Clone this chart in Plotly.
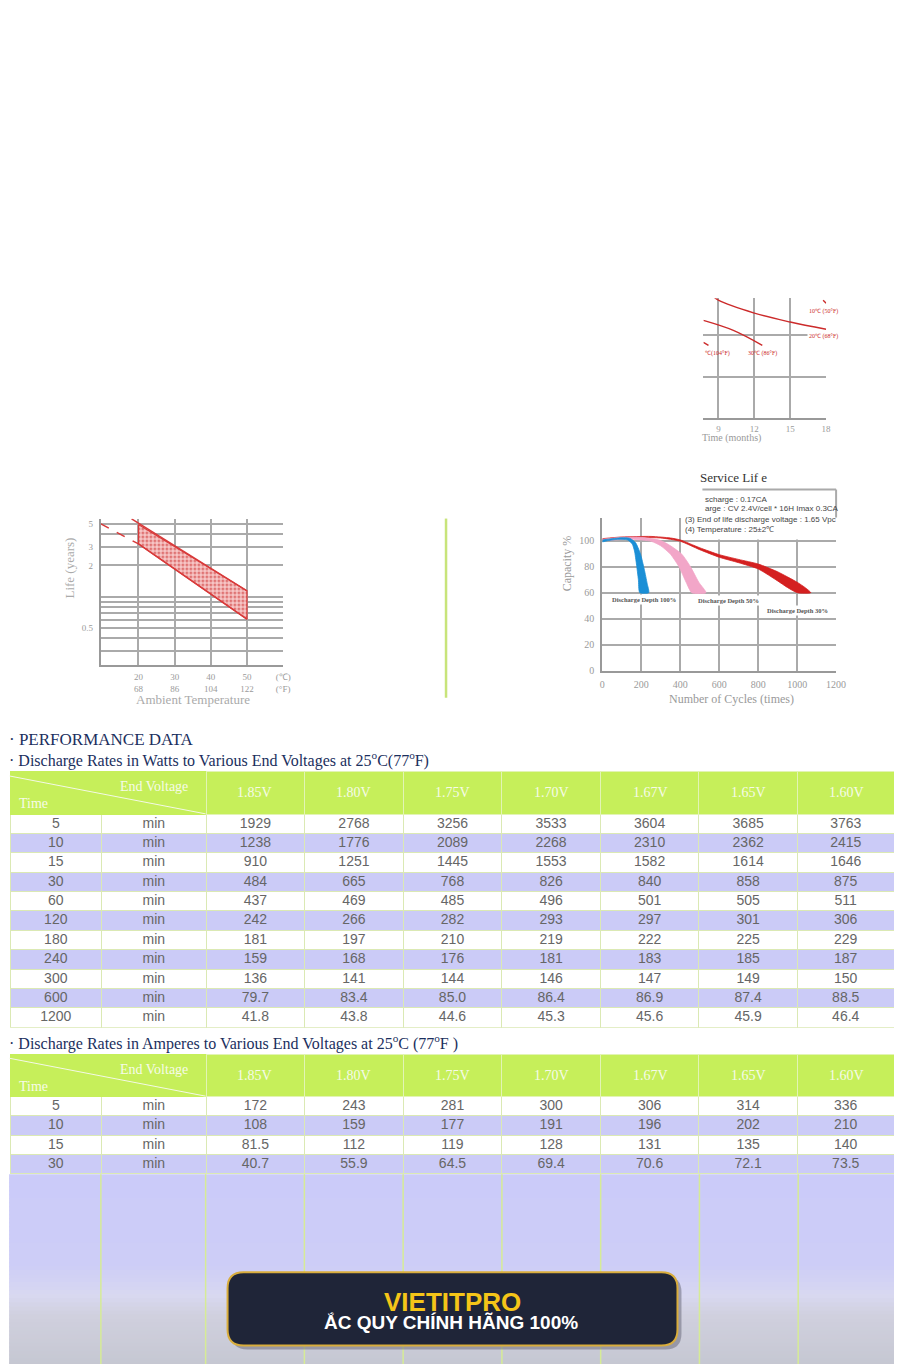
import plotly.graph_objects as go

# 撮影時の縮尺とページ余白を補正するための値
OFF = 8
SX, SY = 0.989, 0.9953
W, H = 897, 1362


def fx(p):
    return (p / SX - OFF) / W


def fy(p):
    return 1 - (p / SY - OFF) / H


SERIF = 'Liberation Serif, Times New Roman, serif'
SANS = 'Liberation Sans, Arial, sans-serif'

# 放電データ（W）
watt_minutes = [5, 10, 15, 30, 60, 120, 180, 240, 300, 600, 1200]
end_voltages = ['1.85V', '1.80V', '1.75V', '1.70V', '1.67V', '1.65V', '1.60V']
watts_185 = [1929, 1238, 910, 484, 437, 242, 181, 159, 136, 79.7, 41.8]
watts_180 = [2768, 1776, 1251, 665, 469, 266, 197, 168, 141, 83.4, 43.8]
watts_175 = [3256, 2089, 1445, 768, 485, 282, 210, 176, 144, 85.0, 44.6]
watts_170 = [3533, 2268, 1553, 826, 496, 293, 219, 181, 146, 86.4, 45.3]
watts_167 = [3604, 2310, 1582, 840, 501, 297, 222, 183, 147, 86.9, 45.6]
watts_165 = [3685, 2362, 1614, 858, 505, 301, 225, 185, 149, 87.4, 45.9]
watts_160 = [3763, 2415, 1646, 875, 511, 306, 229, 187, 150, 88.5, 46.4]

# 放電データ（A）
amp_minutes = [5, 10, 15, 30]
amps_185 = [172, 108, 81.5, 40.7]
amps_180 = [243, 159, 112, 55.9]
amps_175 = [281, 177, 119, 64.5]
amps_170 = [300, 191, 128, 69.4]
amps_167 = [306, 196, 131, 70.6]
amps_165 = [314, 202, 135, 72.1]
amps_160 = [336, 210, 140, 73.5]

# 寿命 vs 周囲温度
life_band_temp = [20, 50, 50, 20, 20]
life_band_years = [4.92, 1.14, 0.61, 3.21, 4.92]
life_upper_temp = [18.1, 50]
life_upper_years = [5.58, 1.14]
life_lower_temp = [20, 50]
life_lower_years = [3.21, 0.61]
life_dash_temp = [9.6, 20]
life_dash_years = [5.0, 3.21]

# サイクル寿命（帯の外形）
d100_cycles = [0, 50, 100, 140, 170, 195, 215, 230, 238,
               192, 185, 175, 165, 153, 130, 80, 30, 0]
d100_capacity = [100.5, 101.5, 102.2, 101.8, 98.5, 90, 78, 67, 60,
                 60, 70, 82, 92, 97.5, 100.5, 101, 100, 99]
d50_cycles = [0, 100, 200, 300, 350, 408, 452, 495, 532,
              459, 430, 393, 350, 300, 250, 150, 0]
d50_capacity = [101, 102.5, 102.5, 100, 96, 89.5, 80, 68, 60,
                60, 68, 80, 89.5, 96, 99.5, 101, 100]
d30_cycles = [0, 100, 250, 350, 400, 500, 600, 700, 800, 900, 1000, 1040, 1070,
              1000, 950, 900, 800, 700, 600, 500, 400, 300, 200, 100, 0]
d30_capacity = [101.5, 102.8, 103.2, 102, 100.5, 94.5, 89.2, 85.5, 82, 76, 68, 64, 60,
                60, 64, 69, 78.2, 83, 87.2, 93, 99.5, 102, 102.3, 102, 100.5]

# 保存特性（右上）
t20_months = [8.6, 9, 12, 15, 18]
t20_capacity = [98.6, 96.9, 90.7, 86.4, 82.9]
t30_months = [7.75, 10.25, 12.67]
t30_capacity = [87.2, 82.4, 75.2]
t40_months = [7.75, 8.17]
t40_capacity = [76.6, 75.2]
t10_months = [17.75, 18]
t10_capacity = [96.9, 95.4]

GRID = '#aaaaaa'
AXIS = '#999999'
TICK = '#9a9a9a'
RED = '#cc2b2b'
GREEN = '#c6ef5a'
LAV = '#cbcbf7'
CLEAR = 'rgba(0,0,0,0)'

fig = go.Figure()

# ---- 寿命グラフ ----
fig.add_trace(go.Scatter(
    x=life_band_temp, y=life_band_years, mode='lines', fill='toself',
    fillpattern=dict(shape='.', fgcolor='#c81e1e', bgcolor='#f7c9c9', size=4, solidity=0.45),
    line=dict(color='#d83a3a', width=1.2), showlegend=False, xaxis='x', yaxis='y'))
fig.add_trace(go.Scatter(x=life_upper_temp, y=life_upper_years, mode='lines',
                         line=dict(color='#d83a3a', width=1.5), showlegend=False))
fig.add_trace(go.Scatter(x=life_lower_temp, y=life_lower_years, mode='lines',
                         line=dict(color='#d83a3a', width=1.5), showlegend=False))
fig.add_trace(go.Scatter(x=life_dash_temp, y=life_dash_years, mode='lines',
                         line=dict(color='#d83a3a', width=1.5, dash='dash'), showlegend=False))

# ---- サイクル寿命グラフ ----
for cx, cy, col in [(d30_cycles, d30_capacity, '#d42020'),
                    (d50_cycles, d50_capacity, '#f2a6c8'),
                    (d100_cycles, d100_capacity, '#1b8fd6')]:
    fig.add_trace(go.Scatter(x=cx, y=cy, mode='lines', fill='toself', fillcolor=col,
                             line=dict(color=col, width=0.8, shape='spline', smoothing=0.6),
                             showlegend=False, xaxis='x2', yaxis='y2'))

# ---- 保存特性グラフ ----
for mx, my in [(t20_months, t20_capacity), (t30_months, t30_capacity),
               (t40_months, t40_capacity), (t10_months, t10_capacity)]:
    fig.add_trace(go.Scatter(x=mx, y=my, mode='lines',
                             line=dict(color=RED, width=1.4, shape='spline'),
                             showlegend=False, xaxis='x3', yaxis='y3'))


# ---- テーブル ----
def fmt(v):
    return f'{v:.1f}' if v < 100 else f'{v:.0f}'


def row_fill(n):
    return ['white' if i % 2 == 0 else LAV for i in range(n)]


COLW = [92, 105, 99, 99, 99, 99, 99, 99, 97]


def add_table(minutes, cols, y_top, y_bot):
    n = len(minutes)
    values = [[str(m) for m in minutes], ['min'] * n] + [[fmt(v) for v in c] for c in cols]
    xdom = [max(0, fx(7)), min(1, fx(895))]
    # 背景と罫線
    fig.add_trace(go.Table(
        domain=dict(x=xdom, y=[fy(y_bot), fy(y_top)]),
        columnwidth=COLW,
        header=dict(values=[''] * 9, height=42 / SY, fill_color=GREEN,
                    line=dict(color=[GREEN, GREEN] + ['#e2f4b4'] * 7, width=1)),
        cells=dict(values=[[''] * n] * 9, height=19.3 / SY,
                   fill_color=[row_fill(n)] * 9,
                   line=dict(color='#dbe9b4', width=1)),
    ))
    # 数値（セル内の余白ぶん上にずらして重ねる）
    fig.add_trace(go.Table(
        domain=dict(x=xdom, y=[fy(y_bot - 5), fy(y_top - 5)]),
        columnwidth=COLW,
        header=dict(values=[''] * 9, height=42 / SY, fill_color=CLEAR,
                    line=dict(color=CLEAR, width=0)),
        cells=dict(values=values, height=19.3 / SY, fill_color=CLEAR,
                   line=dict(color=CLEAR, width=0),
                   font=dict(family=SANS, size=14, color='#666666'),
                   align='center'),
    ))


add_table(watt_minutes,
          [watts_185, watts_180, watts_175, watts_170, watts_167, watts_165, watts_160],
          771, 1027)
add_table(amp_minutes,
          [amps_185, amps_180, amps_175, amps_170, amps_167, amps_165, amps_160],
          1053, 1173)

shapes = []
annotations = []


def text(x, y, s, size, color, family=SERIF, xanchor='center', **kw):
    annotations.append(dict(x=fx(x), y=fy(y), xref='paper', yref='paper', text=s,
                            showarrow=False, xanchor=xanchor, yanchor='middle',
                            font=dict(family=family, size=size, color=color), **kw))


def hline(x0, x1, y, color, width):
    shapes.append(dict(type='line', xref='paper', yref='paper', x0=fx(x0), x1=fx(x1),
                       y0=fy(y), y1=fy(y), line=dict(color=color, width=width)))


def vline(x, y0, y1, color, width):
    shapes.append(dict(type='line', xref='paper', yref='paper', x0=fx(x), x1=fx(x),
                       y0=fy(y0), y1=fy(y1), line=dict(color=color, width=width)))


# 寿命グラフのラベル
text(68, 567, 'Life (years)', 13, '#aaaaaa', textangle=-90)
text(191, 699, 'Ambient Temperature', 13, '#aaaaaa')

# 緑の縦線
vline(445, 518, 697, '#c8e47a', 2.5)

# サイクル寿命：条件ボックス
shapes.append(dict(type='rect', xref='paper', yref='paper', x0=fx(686), x1=fx(836),
                   y0=fy(539), y1=fy(489), fillcolor='white', line=dict(width=0), layer='above'))
hline(702, 836, 489, GRID, 2)
vline(836, 489, 517, GRID, 2)
text(698, 477, 'Service Lif e', 13, '#333333', xanchor='left')
text(703, 499, 'scharge : 0.17CA', 8, '#444444', family=SANS, xanchor='left')
text(703, 508, 'arge : CV 2.4V/cell * 16H Imax 0.3CA', 8, '#444444', family=SANS, xanchor='left')
text(683, 519, '(3) End of life discharge voltage : 1.65 Vpc', 8, '#444444', family=SANS, xanchor='left')
text(683, 529, '(4) Temperature : 25±2℃', 8, '#444444', family=SANS, xanchor='left')
text(643, 599, '<b>Discharge Depth 100%</b>', 6.5, '#555555', bgcolor='white')
text(728, 600, '<b>Discharge Depth 50%</b>', 6.5, '#555555', bgcolor='white')
text(797, 610, '<b>Discharge Depth 30%</b>', 6.5, '#555555', bgcolor='white')
text(566, 563, 'Capacity %', 12, '#999999', textangle=-90)
text(731, 698, 'Number of Cycles (times)', 12, '#999999')

# 保存特性ラベル
text(823, 311, '10℃ (50°F)', 6, RED)
text(823, 336, '20℃ (68°F)', 6, RED, bgcolor='white')
text(762, 353, '30℃ (86°F)', 6, RED)
text(703, 353, '℃(104°F)', 6, RED, xanchor='left')
text(700, 438, 'Time (months)', 10, '#999999', xanchor='left')

# 見出し
NAVY = '#1b2f5e'
text(5, 739, '· PERFORMANCE DATA', 17, NAVY, xanchor='left')
text(5, 759, '· Discharge Rates in Watts to Various End Voltages at 25<sup>o</sup>C(77<sup>o</sup>F)',
     16, NAVY, xanchor='left')
text(5, 1041, '· Discharge Rates in Amperes to Various End Voltages at 25<sup>o</sup>C (77<sup>o</sup>F )',
     16, NAVY, xanchor='left')

# テーブルヘッダー（斜線・見出し・電圧）
col_edges = [204, 303, 402, 501, 600, 699, 798, 895]
for ty in (771, 1053):
    annotations.append(dict(x=fx(204), y=fy(ty + 42), xref='paper', yref='paper', text='',
                            showarrow=True, arrowhead=0, arrowwidth=1, arrowcolor='#f4f9e6',
                            ax=-197 / SX, ay=-38 / SY, standoff=0))
    text(152, ty + 15, 'End Voltage', 14, '#f6fbe8')
    text(15, ty + 32, 'Time', 14, '#f6fbe8', xanchor='left')
    for v, a, b in zip(end_voltages, col_edges[:-1], col_edges[1:]):
        text((a + b) / 2, ty + 21, v, 14, '#f6fbe8')

# 下部のラベンダー背景（グラデーション）
stops = [(1173, (203, 203, 249)), (1262, (205, 205, 247)), (1292, (216, 216, 240)),
         (1312, (208, 208, 222)), (1368, (196, 198, 208))]
y = 1173
while y < 1366:
    for (a, ca), (b, cb) in zip(stops[:-1], stops[1:]):
        if a <= y < b:
            t = (y - a) / (b - a)
            c = tuple(round(ca[i] + (cb[i] - ca[i]) * t) for i in range(3))
    shapes.append(dict(type='rect', xref='paper', yref='paper', x0=fx(7), x1=fx(895),
                       y0=fy(y + 5), y1=fy(y), fillcolor='rgb(%d,%d,%d)' % c,
                       line=dict(width=0), layer='below'))
    y += 4
for bx in [99, 204, 303, 402, 501, 600, 699, 798]:
    vline(bx, 1173, 1366, '#d6eb96', 1.5)


# バナー
def rounded(x0, y0, x1, y1, r):
    return (f'M {fx(x0 + r)},{fy(y0)} L {fx(x1 - r)},{fy(y0)} '
            f'Q {fx(x1)},{fy(y0)} {fx(x1)},{fy(y0 + r)} L {fx(x1)},{fy(y1 - r)} '
            f'Q {fx(x1)},{fy(y1)} {fx(x1 - r)},{fy(y1)} L {fx(x0 + r)},{fy(y1)} '
            f'Q {fx(x0)},{fy(y1)} {fx(x0)},{fy(y1 - r)} L {fx(x0)},{fy(y0 + r)} '
            f'Q {fx(x0)},{fy(y0)} {fx(x0 + r)},{fy(y0)} Z')


shapes.append(dict(type='path', xref='paper', yref='paper', path=rounded(230, 1275, 681, 1348, 16),
                   fillcolor='rgba(110,110,125,0.55)', line=dict(width=0), layer='above'))
shapes.append(dict(type='path', xref='paper', yref='paper', path=rounded(226, 1271, 677, 1344, 16),
                   fillcolor='#1f2538', line=dict(color='#d9ad3c', width=2), layer='above'))
text(451, 1301, '<b>VIETITPRO</b>', 26, '#f5c518', family=SANS)
text(450, 1321, '<b>ẮC QUY CHÍNH HÃNG 100%</b>', 19, 'white', family=SANS)

axis_common = dict(showgrid=True, gridcolor=GRID, gridwidth=1.8, zeroline=False,
                   showline=True, linecolor=AXIS, linewidth=2, ticks='outside',
                   tickcolor='rgba(0,0,0,0)', fixedrange=True)

fig.update_layout(
    width=W, height=H, margin=dict(l=0, r=0, t=0, b=0),
    paper_bgcolor='white', plot_bgcolor='white', showlegend=False,
    xaxis=dict(domain=[fx(99), fx(281.7)], range=[9.6, 60], tickvals=[20, 30, 40, 50, 60],
               ticktext=['20<br>68', '30<br>86', '40<br>104', '50<br>122', '(℃)<br>(°F)'],
               ticklen=2, tickfont=dict(family=SERIF, size=9, color=TICK), anchor='y',
               **axis_common),
    yaxis=dict(domain=[fy(664.3), fy(518.3)], type='log', range=[-0.654, 0.747],
               tickvals=[0.3, 0.4, 0.5, 0.6, 0.7, 0.8, 0.9, 1, 2, 3, 4, 5],
               ticktext=['', '', '0.5', '', '', '', '', '', '2', '3', '', '5'],
               ticklen=4, tickfont=dict(family=SERIF, size=9, color=TICK), anchor='x',
               **axis_common),
    xaxis2=dict(domain=[fx(601.7), fx(836)], range=[0, 1200],
                tickvals=[0, 200, 400, 600, 800, 1000, 1200], ticklen=3,
                tickfont=dict(family=SERIF, size=10, color=TICK), anchor='y2',
                **axis_common),
    yaxis2=dict(domain=[fy(670), fy(517)], range=[0, 117.7],
                tickvals=[0, 20, 40, 60, 80, 100], ticklen=4,
                tickfont=dict(family=SERIF, size=10, color=TICK), anchor='x2',
                **axis_common),
    xaxis3=dict(domain=[fx(703), fx(826)], range=[7.75, 18], tickvals=[9, 12, 15, 18],
                ticklen=1, tickfont=dict(family=SERIF, size=9, color=TICK), anchor='y3',
                **axis_common),
    yaxis3=dict(domain=[fy(418), fy(298)], range=[40, 97.8], tickvals=[60, 80],
                showticklabels=False, showgrid=True, gridcolor=GRID, gridwidth=1.8,
                zeroline=False, showline=False, anchor='x3', fixedrange=True),
    shapes=shapes,
    annotations=annotations,
)

fig.write_html('out.html')
